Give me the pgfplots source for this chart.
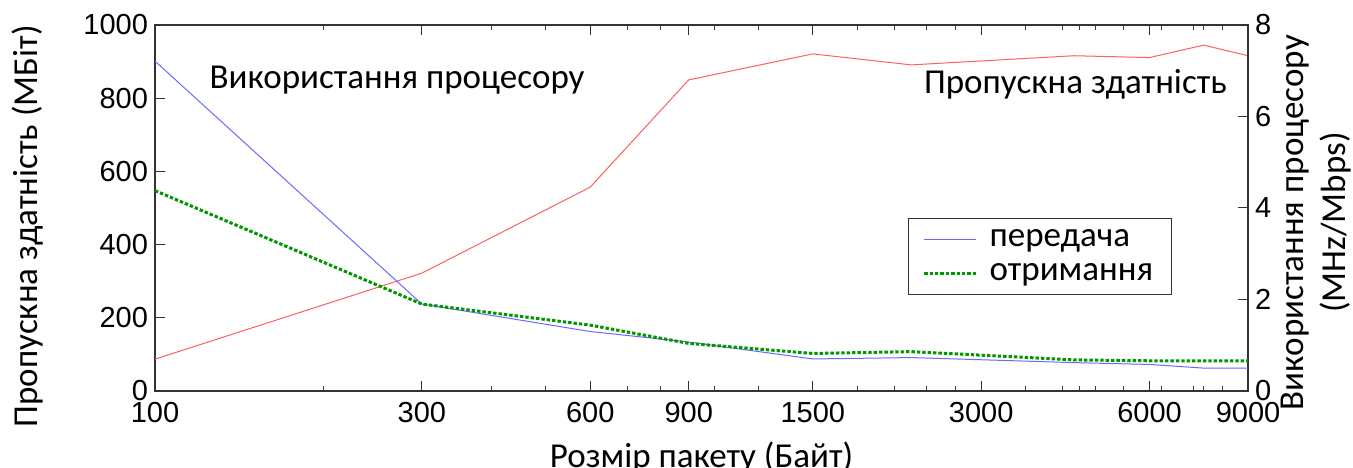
\documentclass[border=0pt]{standalone}
\usepackage{pgfplots}
\pgfplotsset{compat=1.18}
\usepackage{fontspec}
\setmainfont{Carlito}
\newfontfamily\arial{Liberation Sans}
\usetikzlibrary{calc}

\definecolor{thrRed}{RGB}{255,95,95}
\definecolor{txBlue}{RGB}{105,105,255}
\definecolor{rxGreen}{RGB}{0,150,0}

\begin{document}
\begin{tikzpicture}
% throughput, left axis
\begin{axis}[
    scale only axis, width=546.5pt, height=183pt,
    xmode=log, xmin=100, xmax=9000,
    ymin=0, ymax=1000,
    tick align=inside,
    major tick length=5pt,
    axis line style={black!80, line width=0.6pt},
    tick style={black!80, line width=0.5pt},
    tick label style={font=\arial\fontsize{14.5}{16}\selectfont},
    xticklabel style={yshift=-2pt},
    /pgf/number format/assume math mode=true,
    /pgf/number format/1000 sep={},
    ytick={0,200,...,1000},
    ytick pos=left,
    xtick pos=both,
    xticklabel pos=bottom,
    xtick={100,300,600,900,1500,3000,6000,9000},
    xticklabels={100,300,600,900,1500,3000,6000,9000},
    extra x ticks={200,400,500,700,800,1000,1200,1800,2100,2400,2700,3600,4200,4500,4800,5400,6300,7200,7500,8100},
    extra x tick labels={},
    extra x tick style={major tick length=2.5pt},
    ylabel={Пропускна здатність (МБіт)},
    ylabel style={font=\fontsize{17.5}{21}\selectfont, at={(axis description cs:-0.117,0.45)}, anchor=center},
    xlabel={Розмір пакету (Байт)},
    xlabel style={font=\fontsize{17.5}{21}\selectfont, at={(axis description cs:0.5,-0.21)}, anchor=base},
]
\addplot[thrRed, line width=0.5pt] coordinates {
    (100,87) (300,322) (600,557) (900,850) (1500,921)
    (2250,891) (4400,916) (6000,911) (7500,945) (9000,916)
};
\node[anchor=west, inner sep=0pt, font=\fontsize{17.5}{21}\selectfont] at (axis cs:125,850) {Використання процесору};
\node[anchor=east, inner sep=0pt, font=\fontsize{17.5}{21}\selectfont] at (axis cs:8260,839) {Пропускна здатність};
\coordinate (bl) at (rel axis cs:0,0);
\coordinate (tr) at (rel axis cs:1,1);
\end{axis}
% CPU usage, right axis
\begin{axis}[
    scale only axis, width=546.5pt, height=183pt,
    xmode=log, xmin=100, xmax=9000,
    ymin=0, ymax=8,
    axis x line=none,
    axis y line*=right,
    tick align=inside,
    major tick length=5pt,
    axis line style={black!80, line width=0.6pt},
    tick style={black!80, line width=0.5pt},
    tick label style={font=\arial\fontsize{14.5}{16}\selectfont},
    /pgf/number format/assume math mode=true,
    ytick={0,2,...,8},
    ylabel={Використання процесору\\(MHz/Mbps)},
    ylabel style={font=\fontsize{17.5}{21}\selectfont, align=center, at={(axis description cs:1.062,0.46)}, anchor=center},
    legend style={at={(axis description cs:0.689,0.473)}, anchor=north west,
        draw=black!80, line width=0.6pt, font=\fontsize{17.5}{21}\selectfont,
        inner xsep=7pt, inner ysep=3.6pt, row sep=2.75pt},
    legend cell align=left,
    legend image code/.code={\draw[#1] (0pt,0pt) -- (26pt,0pt); \path (30pt,0pt);},
]
\addplot[txBlue, line width=0.5pt] coordinates {
    (100,7.21) (300,1.90) (600,1.30) (900,1.07) (1500,0.70)
    (2250,0.73) (4400,0.62) (6000,0.58) (7500,0.50) (9000,0.50)
};
\addlegendentry{передача}
\addplot[rxGreen, line width=1.5pt, dash pattern=on 1.7pt off 1pt] coordinates {
    (100,4.38) (300,1.90) (600,1.44) (900,1.04) (1500,0.82)
    (2250,0.86) (4400,0.68) (6000,0.66) (7500,0.66) (9000,0.66)
};
\addlegendentry{отримання}
\end{axis}
\pgfresetboundingbox
\path ($(bl)+(-77.5pt,-38.5pt)$) rectangle ($(tr)+(52.5pt,12.5pt)$);
\end{tikzpicture}
\end{document}
